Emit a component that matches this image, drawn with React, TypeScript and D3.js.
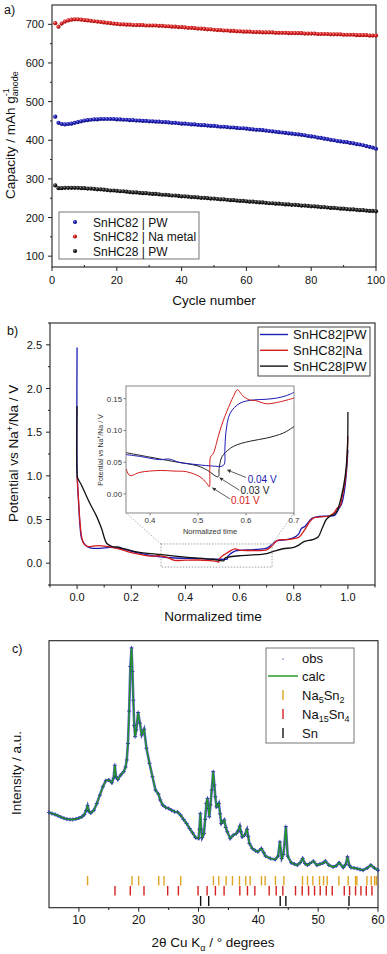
import React from 'react';
import * as d3 from 'd3';

// ---------- Panel a: capacity vs cycle ----------
const capSnHC82PW = [461,445,442,441,442,443,445,447,449,451,452,453,454,454,455,455,455,455,455,454,454,453,453,452,452,451,451,450,450,449,449,448,448,447,447,446,445,445,444,443,443,442,441,441,440,439,439,438,437,437,436,435,435,434,433,433,432,431,431,430,429,428,427,427,426,425,424,423,422,421,420,419,418,417,416,415,414,413,411,410,409,407,406,404,403,401,400,398,397,396,395,393,392,390,389,387,385,383,381,378];
const capSnHC82Na = [703,694,702,707,710,712,713,713,712,711,710,709,708,707,706,705,704,703,702,701,700,700,699,699,698,698,698,698,697,697,697,697,696,696,695,695,694,694,693,693,692,691,691,690,689,689,688,687,687,686,685,685,684,684,683,683,682,682,681,681,681,680,680,680,679,679,679,679,678,678,678,678,677,677,677,677,677,676,676,676,676,675,675,675,675,674,674,674,674,673,673,673,673,672,672,672,672,671,671,671];
const capSnHC28PW = [283,276,276,277,277,277,277,277,276,276,275,275,274,273,273,272,271,270,270,269,268,268,267,266,265,265,264,263,263,262,261,261,260,259,259,258,257,257,256,255,255,254,253,253,252,251,251,250,249,249,248,247,247,246,245,245,244,243,243,242,241,241,240,239,239,238,237,237,236,236,235,234,234,233,233,232,231,231,230,229,229,228,227,227,226,225,225,224,223,223,222,221,221,220,219,219,218,217,217,216];
const aYTicks = [100, 200, 300, 400, 500, 600, 700];
const aXTicks = [0, 20, 40, 60, 80, 100];
const aLegend = ['SnHC82 | PW', 'SnHC82 | Na metal', 'SnHC28 | PW'];

// ---------- Panel b: potential vs normalized time ----------
const bSnHC82PW: [number, number][] = [[0,2.47],[0.0005,1.0],[0.005,0.72],[0.011,0.42],[0.017,0.28],[0.03,0.21],[0.048,0.175],[0.085,0.17],[0.122,0.18],[0.159,0.17],[0.208,0.13],[0.269,0.09],[0.331,0.065],[0.405,0.055],[0.44,0.056],[0.479,0.046],[0.534,0.045],[0.554,0.046],[0.557,0.08],[0.577,0.13],[0.601,0.147],[0.65,0.155],[0.7,0.172],[0.718,0.21],[0.737,0.255],[0.774,0.27],[0.798,0.29],[0.817,0.33],[0.829,0.4],[0.841,0.42],[0.854,0.47],[0.866,0.51],[0.884,0.53],[0.927,0.54],[0.952,0.55],[0.964,0.61],[0.977,0.68],[0.989,0.87],[0.995,1.06],[1.0,1.3]];
const bSnHC82Na: [number, number][] = [[0,1.0],[0.004,0.8],[0.01,0.5],[0.017,0.3],[0.025,0.22],[0.04,0.19],[0.06,0.195],[0.08,0.2],[0.1,0.195],[0.13,0.18],[0.17,0.15],[0.2,0.12],[0.25,0.09],[0.28,0.08],[0.3,0.085],[0.33,0.07],[0.36,0.033],[0.4,0.035],[0.45,0.036],[0.5,0.027],[0.518,0.017],[0.5235,0.012],[0.5245,0.045],[0.54,0.09],[0.56,0.13],[0.582,0.164],[0.6,0.15],[0.65,0.145],[0.7,0.152],[0.72,0.2],[0.74,0.26],[0.78,0.27],[0.8,0.28],[0.82,0.3],[0.84,0.38],[0.86,0.48],[0.875,0.52],[0.9,0.53],[0.93,0.54],[0.95,0.58],[0.96,0.63],[0.97,0.65],[0.98,0.78],[0.99,0.95],[0.995,1.1],[1.0,1.45]];
const bSnHC28PW: [number, number][] = [[0,1.8],[0.0005,1.0],[0.003,0.97],[0.015,0.9],[0.03,0.8],[0.048,0.68],[0.07,0.55],[0.09,0.4],[0.11,0.225],[0.13,0.19],[0.15,0.185],[0.18,0.16],[0.22,0.13],[0.3,0.1],[0.4,0.07],[0.5,0.045],[0.542,0.028],[0.545,0.055],[0.56,0.07],[0.6,0.085],[0.7,0.11],[0.73,0.14],[0.76,0.165],[0.8,0.18],[0.82,0.21],[0.84,0.25],[0.87,0.27],[0.89,0.3],[0.905,0.4],[0.92,0.5],[0.935,0.54],[0.95,0.56],[0.96,0.6],[0.975,0.75],[0.99,1.0],[0.998,1.3],[1.0,1.73]];
const bYTicks = [0, 0.5, 1.0, 1.5, 2.0, 2.5];
const bXTicks = [0, 0.2, 0.4, 0.6, 0.8, 1.0];
const bLegend = ['SnHC82|PW', 'SnHC82|Na', 'SnHC28|PW'];

// inset
const inSnHC82PW: [number, number][] = [[0.35,0.062],[0.38,0.059],[0.42,0.054],[0.44,0.055],[0.46,0.05],[0.5,0.046],[0.53,0.044],[0.553,0.045],[0.556,0.07],[0.558,0.096],[0.567,0.127],[0.5875,0.143],[0.615,0.148],[0.64,0.149],[0.664,0.151],[0.685,0.155],[0.7,0.16]];
const inSnHC82Na: [number, number][] = [[0.35,0.04],[0.358,0.029],[0.379,0.034],[0.421,0.037],[0.45,0.036],[0.476,0.035],[0.504,0.027],[0.518,0.017],[0.5235,0.0115],[0.5245,0.04],[0.526,0.058],[0.532,0.064],[0.542,0.09],[0.55,0.11],[0.56,0.13],[0.574,0.154],[0.582,0.164],[0.594,0.154],[0.608,0.148],[0.62,0.147],[0.643,0.142],[0.67,0.145],[0.7,0.151]];
const inSnHC28PW: [number, number][] = [[0.35,0.065],[0.4,0.058],[0.45,0.051],[0.5,0.044],[0.52,0.037],[0.542,0.027],[0.544,0.04],[0.548,0.055],[0.553,0.062],[0.574,0.075],[0.608,0.083],[0.643,0.088],[0.678,0.096],[0.7,0.106]];
const inYTicks = [0, 0.05, 0.1, 0.15];
const inXTicks = [0.4, 0.5, 0.6, 0.7];
const cutoffLabels = ['0.04 V', '0.03 V', '0.01 V'];
// [tail t, tail v, head t, head v, text t, text v]
const cutoffArrows = [[0.6, 0.026, 0.56, 0.038, 0.6035, 0.018], [0.586, 0.006, 0.544, 0.026, 0.5885, 0.0005], [0.567, -0.008, 0.529, 0.01, 0.5685, -0.016]];
const zoomBox = [0.31, 0.72, -0.045, 0.22];

// ---------- Panel c: XRD ----------
const twoTheta = [5.0,5.5,6.0,6.5,7.0,7.5,8.0,8.5,9.0,9.5,10.0,10.5,10.9,11.2,11.45,11.7,12.0,12.5,13.0,13.5,14.0,14.5,15.0,15.5,15.8,16.0,16.2,16.5,17.0,17.5,17.8,18.0,18.2,18.4,18.6,18.8,18.95,19.1,19.25,19.4,19.6,19.9,20.2,20.5,20.9,21.3,21.8,22.3,22.8,23.3,23.6,24.0,24.5,25.0,25.5,26.0,26.5,27.0,27.5,28.0,28.5,29.0,29.5,30.0,30.15,30.3,30.45,30.6,30.9,31.1,31.3,31.5,31.65,31.8,32.0,32.2,32.45,32.65,32.8,33.0,33.2,33.4,33.6,33.8,34.05,34.3,34.55,34.8,35.3,35.8,36.3,36.6,36.9,37.1,37.3,37.7,38.1,38.3,38.5,39.0,39.5,39.9,40.5,40.9,41.2,42.0,42.8,43.3,43.6,43.9,44.2,44.6,44.9,45.5,46.0,46.5,47.0,47.4,47.8,48.2,48.6,49.2,49.8,50.3,50.8,51.2,51.8,52.5,53.0,53.5,54.2,54.6,54.9,55.2,55.5,56.0,56.5,57.0,57.5,58.2,58.8,59.4,60.0];
const intensity = [9.8,9.2,8.7,8.0,7.2,6.6,6.1,5.9,5.9,6.2,6.7,7.4,8.6,10.8,13.5,10.2,9.6,11.0,14.8,19.4,24.0,27.4,27.8,26.3,28.9,36.0,29.6,28.1,30.6,32.4,35.0,38.9,48.0,66.0,90.7,101.0,88.0,72.0,58.0,51.8,55.6,65.2,59.3,52.8,55.9,45.4,37.0,29.6,22.2,20.0,16.7,13.9,12.6,12.0,11.0,10.2,10.0,8.3,5.9,3.7,0.9,-1.5,-4.1,-4.6,0.5,9.3,0.5,-4.1,-1.9,6.0,14.8,17.6,12.0,7.4,14.0,22.2,32.4,25.0,18.5,13.0,13.5,14.8,9.0,3.7,4.5,5.6,1.5,-0.9,-4.6,-2.8,-1.9,-0.5,2.2,-1.0,-3.7,-2.8,0.4,-3.5,-7.4,-10.2,-11.4,-12.0,-10.2,-12.5,-14.4,-15.7,-16.3,-14.4,-6.5,-15.7,-13.5,1.9,-14.4,-18.1,-18.8,-19.4,-18.0,-15.7,-18.5,-19.4,-18.5,-17.2,-19.4,-18.8,-18.3,-17.2,-19.4,-20.4,-19.8,-18.1,-20.7,-19.0,-14.8,-19.5,-20.7,-21.0,-21.3,-21.8,-22.2,-21.0,-19.4,-21.0,-22.2];
const reflNa5Sn2 = [11.45,18.87,19.99,23.34,24.23,27.02,32.49,33.38,34.61,35.67,36.84,37.9,38.62,40.52,41.13,42.86,44.26,47.38,48.22,49.11,50.23,50.9,51.51,53.46,55.02,56.25,56.47,58.15,58.87,59.43,59.72];
const reflNa15Sn4 = [16.03,18.59,20.88,24.84,26.63,29.92,31.43,32.82,34.27,36.9,38.18,39.41,41.81,42.98,44.09,46.21,47.33,48.39,49.39,50.34,51.35,52.35,54.36,55.25,56.25,57.15,58.04,58.99];
const reflSn = [30.35,31.7,43.65,44.6,55.15];
const cXTicks = [10, 20, 30, 40, 50, 60];

const FONT = "'Liberation Sans', Arial, Helvetica, sans-serif";
const BLUE = '#1c1cb4';
const RED = '#d41c1c';
const BLK = '#111111';

export default function App() {
  // scales
  const xA = d3.scaleLinear().domain([0, 100]).range([52, 376]);
  const yA = d3.scaleLinear().domain([72, 750]).range([267, 5]);
  const xB = d3.scaleLinear().domain([-0.1, 1.1]).range([50, 375]);
  const yB = d3.scaleLinear().domain([-0.25, 2.75]).range([585, 323]);
  const xI = d3.scaleLinear().domain([0.35, 0.7]).range([126, 294]);
  const yI = d3.scaleLinear().domain([-0.03, 0.17]).range([513, 386]);
  const xC = d3.scaleLinear().domain([5, 60]).range([49, 378]);
  const yC = d3.scaleLinear().domain([-43, 105]).range([907.7, 640.7]);

  const lineB = d3.line<[number, number]>().x(d => xB(d[0])).y(d => yB(d[1])).curve(d3.curveCatmullRom.alpha(0.5));
  const lineI = d3.line<[number, number]>().x(d => xI(d[0])).y(d => yI(d[1])).curve(d3.curveCatmullRom.alpha(0.5));
  const xrd = twoTheta.map((t, i) => [t, intensity[i]] as [number, number]);
  const lineC = d3.line<[number, number]>().x(d => xC(d[0])).y(d => yC(d[1]));

  const aSeries = [
    { vals: capSnHC82PW, grad: 'gB' },
    { vals: capSnHC82Na, grad: 'gR' },
    { vals: capSnHC28PW, grad: 'gK' },
  ];

  const tickTxt = { fontFamily: FONT, fill: '#111' } as const;

  return (
    <svg width={387} height={954} style={{ position: 'absolute', left: 0, top: 0, background: '#fff' }} fontFamily={FONT}>
      <defs>
        <radialGradient id="gB" cx="35%" cy="35%" r="65%"><stop offset="0%" stopColor="#8c8cf0" /><stop offset="45%" stopColor={BLUE} /><stop offset="100%" stopColor="#10107a" /></radialGradient>
        <radialGradient id="gR" cx="35%" cy="35%" r="65%"><stop offset="0%" stopColor="#ff9a9a" /><stop offset="45%" stopColor={RED} /><stop offset="100%" stopColor="#a01010" /></radialGradient>
        <radialGradient id="gK" cx="35%" cy="35%" r="65%"><stop offset="0%" stopColor="#888" /><stop offset="45%" stopColor="#222" /><stop offset="100%" stopColor="#000" /></radialGradient>
        <clipPath id="clipI"><rect x={126} y={386} width={168} height={127} /></clipPath>
      </defs>
      <rect x={0} y={0} width={387} height={954} fill="#fff" />

      {/* ================= Panel a ================= */}
      <text x={4} y={14} fontSize={12.5} {...tickTxt}>a)</text>
      <rect x={52} y={5} width={324} height={262} fill="none" stroke="#222" strokeWidth={1.1} />
      {aYTicks.map(v => (
        <g key={'ay' + v}>
          <line x1={48} x2={52} y1={yA(v)} y2={yA(v)} stroke="#222" />
          <text x={44} y={yA(v) + 4} fontSize={11} textAnchor="end" {...tickTxt}>{v}</text>
        </g>
      ))}
      {[150, 250, 350, 450, 550, 650].map(v => (
        <line key={'aym' + v} x1={50} x2={52} y1={yA(v)} y2={yA(v)} stroke="#222" />
      ))}
      {aXTicks.map(v => (
        <g key={'ax' + v}>
          <line x1={xA(v)} x2={xA(v)} y1={267} y2={271} stroke="#222" />
          <text x={xA(v)} y={284} fontSize={11} textAnchor="middle" {...tickTxt}>{v}</text>
        </g>
      ))}
      {[10, 30, 50, 70, 90].map(v => (
        <line key={'axm' + v} x1={xA(v)} x2={xA(v)} y1={265} y2={267} stroke="#222" />
      ))}
      <text x={214} y={305} fontSize={13.5} textAnchor="middle" {...tickTxt}>Cycle number</text>
      <text transform="translate(15,199) rotate(-90)" fontSize={13.5} {...tickTxt}>
        Capacity / mAh g<tspan fontSize={9} dy={-6}>-1</tspan><tspan fontSize={9} dx={-8} dy={9}>anode</tspan>
      </text>
      {aSeries.map((s, si) => (
        <g key={'as' + si}>
          {s.vals.map((v, i) => (
            <circle key={i} cx={xA(i + 1)} cy={yA(v)} r={2.1} fill={`url(#${s.grad})`} />
          ))}
        </g>
      ))}
      <rect x={59} y={212} width={140} height={47} fill="#fff" stroke="#777" strokeWidth={1} />
      {aLegend.map((l, i) => (
        <g key={'al' + i}>
          <circle cx={75} cy={222 + i * 14.5} r={2.1} fill={`url(#${aSeries[i].grad})`} />
          <text x={93} y={226.5 + i * 14.5} fontSize={12} {...tickTxt}>{l}</text>
        </g>
      ))}

      {/* ================= Panel b ================= */}
      <text x={7} y={335} fontSize={12.5} {...tickTxt}>b)</text>
      <rect x={50} y={323} width={325} height={262} fill="none" stroke="#222" strokeWidth={1.1} />
      {bYTicks.map(v => (
        <g key={'by' + v}>
          <line x1={46} x2={50} y1={yB(v)} y2={yB(v)} stroke="#222" />
          <text x={42} y={yB(v) + 4} fontSize={11} textAnchor="end" {...tickTxt}>{v.toFixed(1)}</text>
        </g>
      ))}
      {[-0.25, 0.25, 0.75, 1.25, 1.75, 2.25, 2.75].map(v => (
        <line key={'bym' + v} x1={48} x2={50} y1={yB(v)} y2={yB(v)} stroke="#222" />
      ))}
      {bXTicks.map(v => (
        <g key={'bx' + v}>
          <line x1={xB(v)} x2={xB(v)} y1={585} y2={589} stroke="#222" />
          <text x={xB(v)} y={600.5} fontSize={11} textAnchor="middle" {...tickTxt}>{v.toFixed(1)}</text>
        </g>
      ))}
      {[-0.1, 0.1, 0.3, 0.5, 0.7, 0.9, 1.1].map(v => (
        <line key={'bxm' + v} x1={xB(v)} x2={xB(v)} y1={585} y2={587.5} stroke="#222" />
      ))}
      <text x={213} y={621} fontSize={13.5} textAnchor="middle" {...tickTxt}>Normalized time</text>
      <text transform="translate(18,522) rotate(-90)" fontSize={13.5} {...tickTxt}>
        Potential vs Na<tspan fontSize={9} dy={-5}>+</tspan><tspan dy={5}>/Na / V</tspan>
      </text>
      <path d={lineB(bSnHC82PW) || ''} fill="none" stroke={BLUE} strokeWidth={1.3} />
      <path d={lineB(bSnHC82Na) || ''} fill="none" stroke={RED} strokeWidth={1.3} />
      <path d={lineB(bSnHC28PW) || ''} fill="none" stroke={BLK} strokeWidth={1.3} />
      {/* zoom box */}
      <rect x={xB(zoomBox[0])} y={yB(zoomBox[3])} width={xB(zoomBox[1]) - xB(zoomBox[0])} height={yB(zoomBox[2]) - yB(zoomBox[3])} fill="none" stroke="#999" strokeWidth={0.9} strokeDasharray="1.5,1.5" />
      <line x1={xB(zoomBox[0])} y1={yB(zoomBox[3])} x2={126} y2={513} stroke="#aaa" strokeWidth={0.9} strokeDasharray="1.5,1.5" />
      <line x1={xB(zoomBox[1])} y1={yB(zoomBox[3])} x2={294} y2={513} stroke="#aaa" strokeWidth={0.9} strokeDasharray="1.5,1.5" />
      {/* legend b */}
      <rect x={258} y={327} width={112} height={49} fill="#fff" stroke="#444" strokeWidth={1} />
      {bLegend.map((l, i) => (
        <g key={'bl' + i}>
          <line x1={260} x2={288} y1={334.5 + i * 15.8} y2={334.5 + i * 15.8} stroke={[BLUE, RED, BLK][i]} strokeWidth={1.4} />
          <text x={293} y={339.3 + i * 15.8} fontSize={13} {...tickTxt}>{l}</text>
        </g>
      ))}
      {/* inset */}
      <rect x={126} y={386} width={168} height={127} fill="#fff" stroke="#888" strokeWidth={1} />
      <g clipPath="url(#clipI)">
        <path d={lineI(inSnHC28PW) || ''} fill="none" stroke="#222" strokeWidth={1} />
        <path d={lineI(inSnHC82PW) || ''} fill="none" stroke={BLUE} strokeWidth={1} />
        <path d={lineI(inSnHC82Na) || ''} fill="none" stroke={RED} strokeWidth={1} />
      </g>
      {inYTicks.map(v => (
        <g key={'iy' + v}>
          <line x1={123.5} x2={126} y1={yI(v)} y2={yI(v)} stroke="#666" strokeWidth={0.8} />
          <text x={122} y={yI(v) + 2.8} fontSize={7.8} textAnchor="end" fill="#333">{v.toFixed(2)}</text>
        </g>
      ))}
      {inXTicks.map(v => (
        <g key={'ix' + v}>
          <line x1={xI(v)} x2={xI(v)} y1={513} y2={515.5} stroke="#666" strokeWidth={0.8} />
          <text x={xI(v)} y={522.5} fontSize={7.8} textAnchor="middle" fill="#333">{v.toFixed(1)}</text>
        </g>
      ))}
      <text x={210} y={533.5} fontSize={7.5} textAnchor="middle" fill="#333">Normalized time</text>
      <text transform="translate(103,450) rotate(-90)" fontSize={7} textAnchor="middle" fill="#333">
        Potential vs Na<tspan fontSize={5} dy={-3}>+</tspan><tspan dy={3}>/Na / V</tspan>
      </text>
      {cutoffArrows.map((a, i) => {
        const col = [BLUE, '#222', RED][i];
        const x1 = xI(a[0]), y1 = yI(a[1]), x2 = xI(a[2]), y2 = yI(a[3]);
        const ang = Math.atan2(y2 - y1, x2 - x1);
        const hl = 4, hw = 1.8;
        const bx = x2 - hl * Math.cos(ang), by = y2 - hl * Math.sin(ang);
        const px = -Math.sin(ang) * hw, py = Math.cos(ang) * hw;
        return (
          <g key={'ca' + i}>
            <line x1={x1} y1={y1} x2={bx} y2={by} stroke="#333" strokeWidth={0.8} />
            <path d={`M${x2},${y2}L${bx + px},${by + py}L${bx - px},${by - py}Z`} fill="#333" />
            <text x={xI(a[4])} y={yI(a[5])} fontSize={10} fill={col}>{cutoffLabels[i]}</text>
          </g>
        );
      })}

      {/* ================= Panel c ================= */}
      <text x={12} y={653} fontSize={12.5} {...tickTxt}>c)</text>
      <rect x={49} y={640.7} width={329} height={267} fill="none" stroke="#222" strokeWidth={1.1} />
      {cXTicks.map(v => (
        <g key={'cx' + v}>
          <line x1={xC(v)} x2={xC(v)} y1={907.7} y2={911.7} stroke="#222" />
          <text x={xC(v)} y={924} fontSize={12} textAnchor="middle" {...tickTxt}>{v}</text>
        </g>
      ))}
      {[15, 25, 35, 45, 55].map(v => (
        <line key={'cxm' + v} x1={xC(v)} x2={xC(v)} y1={907.7} y2={910} stroke="#222" />
      ))}
      <text x={213} y={947} fontSize={13.5} textAnchor="middle" {...tickTxt}>
        2θ Cu K<tspan fontSize={9} dy={4}>α</tspan><tspan dy={-4}> / ° degrees</tspan>
      </text>
      <text transform="translate(21,815) rotate(-90)" fontSize={13.5} {...tickTxt}>Intensity / a.u.</text>
      {/* obs */}
      <path d={lineC(xrd) || ''} fill="none" stroke="#2a2ab8" strokeWidth={2.6} opacity={0.75} />
      <g stroke="#2323b0" strokeWidth={0.9}>
        {xrd.map((d, i) => {
          const x = xC(d[0]), y = yC(d[1]);
          return <path key={'o' + i} d={`M${x - 2},${y}H${x + 2}M${x},${y - 2}V${y + 2}`} />;
        })}
      </g>
      <path d={lineC(xrd) || ''} fill="none" stroke="#1e961e" strokeWidth={1.3} />
      {/* reflections */}
      {reflNa5Sn2.map((t, i) => <line key={'r1' + i} x1={xC(t)} x2={xC(t)} y1={876} y2={885.5} stroke="#e0a524" strokeWidth={1.4} />)}
      {reflNa15Sn4.map((t, i) => <line key={'r2' + i} x1={xC(t)} x2={xC(t)} y1={886} y2={895.5} stroke="#d42020" strokeWidth={1.4} />)}
      {reflSn.map((t, i) => <line key={'r3' + i} x1={xC(t)} x2={xC(t)} y1={896} y2={906} stroke="#111" strokeWidth={1.4} />)}
      {/* legend c */}
      <rect x={266} y={648} width={88} height={95} fill="#fff" stroke="#777" strokeWidth={1} />
      <path d="M282,659H284M283,658V660" stroke="#9a9ae0" strokeWidth={0.8} />
      <text x={302} y={663} fontSize={13} {...tickTxt}>obs</text>
      <line x1={268} x2={298} y1={676} y2={676} stroke="#1e961e" strokeWidth={1.4} />
      <text x={302} y={680.5} fontSize={13} {...tickTxt}>calc</text>
      <line x1={283} x2={283} y1={690} y2={700} stroke="#e0a524" strokeWidth={1.4} />
      <text x={302} y={699.5} fontSize={13} {...tickTxt}>Na<tspan fontSize={9} dy={3}>5</tspan><tspan dy={-3}>Sn</tspan><tspan fontSize={9} dy={3}>2</tspan></text>
      <line x1={283} x2={283} y1={709} y2={719} stroke="#d42020" strokeWidth={1.4} />
      <text x={302} y={718.5} fontSize={13} {...tickTxt}>Na<tspan fontSize={9} dy={3}>15</tspan><tspan dy={-3}>Sn</tspan><tspan fontSize={9} dy={3}>4</tspan></text>
      <line x1={283} x2={283} y1={728} y2={738} stroke="#111" strokeWidth={1.4} />
      <text x={302} y={737.5} fontSize={13} {...tickTxt}>Sn</text>
    </svg>
  );
}
